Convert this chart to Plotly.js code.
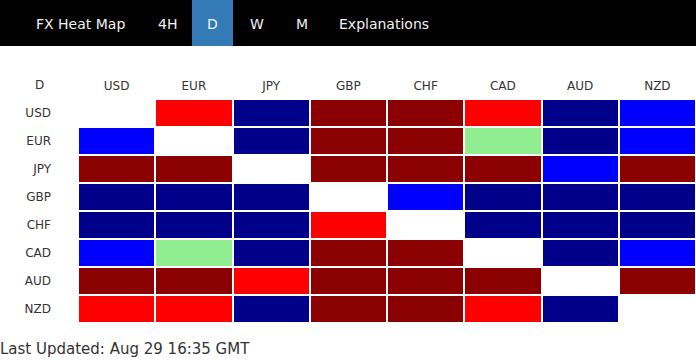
<!DOCTYPE html>
<html>
<head>
<meta charset="utf-8">
<script src="https://cdn.plot.ly/plotly-3.0.1.min.js"></script>
<style>
html,body{margin:0;padding:0;background:#fff;overflow:hidden;}
#chart{width:696px;height:360px;}
</style>
</head>
<body>
<div id="chart"></div>
<script>
// Currencies (rows = base, columns = quote)
const currencies = ['USD','EUR','JPY','GBP','CHF','CAD','AUD','NZD'];
// Strength codes: -2 (dark red), -1 (red), 0 neutral (light green), 1 (blue), 2 (dark blue); null = same currency
const rowUSD = [null, -1,  2, -2, -2, -1,  2,  1];
const rowEUR = [  1, null, 2, -2, -2,  0,  2,  1];
const rowJPY = [ -2, -2, null,-2, -2, -2,  1, -2];
const rowGBP = [  2,  2,  2, null, 1,  2,  2,  2];
const rowCHF = [  2,  2,  2, -1, null, 2,  2,  2];
const rowCAD = [  1,  0,  2, -2, -2, null, 2,  1];
const rowAUD = [ -2, -2, -1, -2, -2, -2, null,-2];
const rowNZD = [ -1, -1,  2, -2, -2, -1,  2, null];
const menuItems = ['FX Heat Map','4H','D','W','M','Explanations'];
const activePeriod = 'D';
const updatedText = 'Last Updated: Aug 29 16:35 GMT';

const z = [rowUSD,rowEUR,rowJPY,rowGBP,rowCHF,rowCAD,rowAUD,rowNZD];

const W = 696, H = 360, L = 78, R = 0, T = 99, B = 37;
const pw = W - L - R, ph = H - T - B;
const px = x => (x - L) / pw;
const py = y => (H - B - y) / ph;

const colorscale = [
  [0,'#8B0000'],[0.125,'#8B0000'],
  [0.125,'#FF0000'],[0.375,'#FF0000'],
  [0.375,'#90EE90'],[0.625,'#90EE90'],
  [0.625,'#0000FF'],[0.875,'#0000FF'],
  [0.875,'#00008B'],[1,'#00008B']
];

const trace = {
  type:'heatmap',
  x: currencies,
  y: currencies,
  z: z,
  zmin:-2, zmax:2,
  colorscale: colorscale,
  showscale:false,
  xgap:2, ygap:2,
  hoverinfo:'skip'
};

const menuCenters = [80, 167.5, 212, 257, 301.5, 384];
const annotations = menuItems.map((t,i)=>({
  text:t, xref:'paper', yref:'paper', x:px(menuCenters[i]), y:py(24),
  xanchor:'center', yanchor:'middle', showarrow:false,
  font:{family:'DejaVu Sans, Verdana, sans-serif', size:14, color:'#f2f2f2'}
}));
annotations.push({
  text: activePeriod, xref:'paper', yref:'paper', x:px(39), y:py(85),
  xanchor:'center', yanchor:'middle', showarrow:false,
  font:{family:'DejaVu Sans, Verdana, sans-serif', size:12, color:'#333'}
});
annotations.push({
  text: updatedText, xref:'paper', yref:'paper', x:px(0), y:py(349),
  xanchor:'left', yanchor:'middle', showarrow:false, xshift:-2,
  font:{family:'DejaVu Sans, Verdana, sans-serif', size:15, color:'#333'}
});

const shapes = [
  {type:'rect', xref:'paper', yref:'paper', x0:px(0), x1:px(W), y0:py(46), y1:py(0),
   fillcolor:'#000', line:{width:0}, layer:'above'},
  {type:'rect', xref:'paper', yref:'paper', x0:px(192), x1:px(233), y0:py(46), y1:py(0),
   fillcolor:'#337AB7', line:{width:0}, layer:'above'}
];

const layout = {
  width:W, height:H,
  margin:{l:L, r:R, t:T, b:B, pad:0},
  paper_bgcolor:'#fff', plot_bgcolor:'#fff',
  font:{family:'DejaVu Sans, Verdana, sans-serif', size:12, color:'#333'},
  xaxis:{side:'top', type:'category', showgrid:false, zeroline:false, showline:false,
         ticks:'', tickfont:{size:12, color:'#333'}, ticklabelstandoff:6, fixedrange:true},
  yaxis:{type:'category', autorange:'reversed', showgrid:false, zeroline:false, showline:false,
         ticks:'', tickfont:{size:12, color:'#333'}, ticklabelstandoff:26, fixedrange:true},
  shapes: shapes,
  annotations: annotations,
  showlegend:false
};

Plotly.newPlot('chart',[trace],layout,{displayModeBar:false, staticPlot:true});
</script>
</body>
</html>
